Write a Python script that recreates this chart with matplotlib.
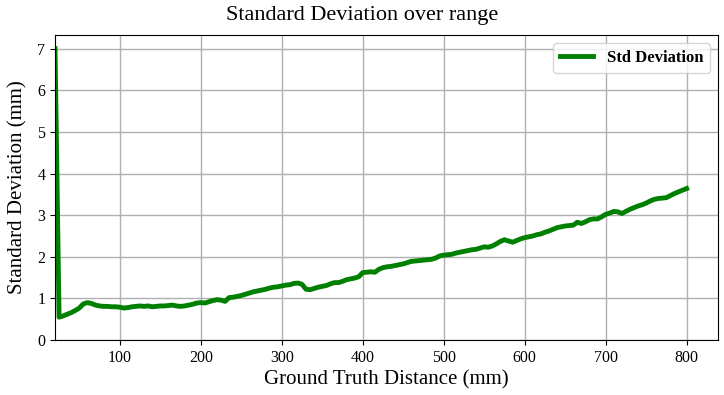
import numpy as np
import matplotlib
matplotlib.use("Agg")
import matplotlib.pyplot as plt

# ground truth distance (mm), 5 mm steps
distance = np.arange(20, 805, 5)

# standard deviation (mm)
std_dev = [
    7.00, 0.55, 0.58, 0.62, 0.66, 0.71, 0.77, 0.87, 0.90, 0.88,
    0.84, 0.82, 0.81, 0.81, 0.80, 0.80, 0.79, 0.77, 0.78, 0.80,
    0.81, 0.82, 0.81, 0.82, 0.80, 0.81, 0.82, 0.82, 0.83, 0.84,
    0.82, 0.81, 0.82, 0.84, 0.86, 0.89, 0.90, 0.89, 0.92, 0.95,
    0.97, 0.96, 0.93, 1.02, 1.03, 1.05, 1.07, 1.10, 1.13, 1.16,
    1.18, 1.20, 1.22, 1.25, 1.27, 1.28, 1.30, 1.32, 1.33, 1.36,
    1.37, 1.34, 1.22, 1.21, 1.24, 1.27, 1.29, 1.31, 1.35, 1.38,
    1.38, 1.41, 1.45, 1.47, 1.49, 1.52, 1.62, 1.63, 1.64, 1.63,
    1.70, 1.74, 1.76, 1.77, 1.79, 1.81, 1.83, 1.86, 1.89, 1.90,
    1.91, 1.92, 1.93, 1.94, 1.97, 2.02, 2.04, 2.05, 2.06, 2.09,
    2.11, 2.13, 2.15, 2.17, 2.18, 2.21, 2.24, 2.23, 2.26, 2.31,
    2.37, 2.41, 2.38, 2.35, 2.39, 2.43, 2.46, 2.48, 2.50, 2.53,
    2.55, 2.59, 2.62, 2.66, 2.70, 2.72, 2.74, 2.75, 2.76, 2.83,
    2.80, 2.84, 2.89, 2.91, 2.91, 2.96, 3.02, 3.05, 3.09, 3.08,
    3.04, 3.09, 3.14, 3.18, 3.22, 3.25, 3.29, 3.34, 3.38, 3.40,
    3.41, 3.42, 3.47, 3.52, 3.56, 3.60, 3.64,
]

plt.rcParams["font.family"] = ["Liberation Serif", "DejaVu Serif"]

fig, ax = plt.subplots(figsize=(7.24, 3.95), dpi=100)
fig.subplots_adjust(left=0.076, right=0.992, top=0.911, bottom=0.139)

ax.plot(distance, std_dev, color="green", linewidth=3.5, label="Std Deviation")

# title sits centred on the figure, not the axes
fig.suptitle("Standard Deviation over range", x=0.5, y=0.985, fontsize=16)
ax.set_xlabel("Ground Truth Distance (mm)", fontsize=15, labelpad=3)
ax.set_ylabel("Standard Deviation (mm)", fontsize=15, labelpad=7)
ax.tick_params(labelsize=11.5)

ax.set_xlim(left=distance[0])
ax.set_ylim(bottom=0)
ax.grid(True, color="#b0b0b0", linewidth=1.0)

ax.legend(loc="upper right", prop={"weight": "bold", "size": 12})

fig.savefig("out.png", dpi=100)
